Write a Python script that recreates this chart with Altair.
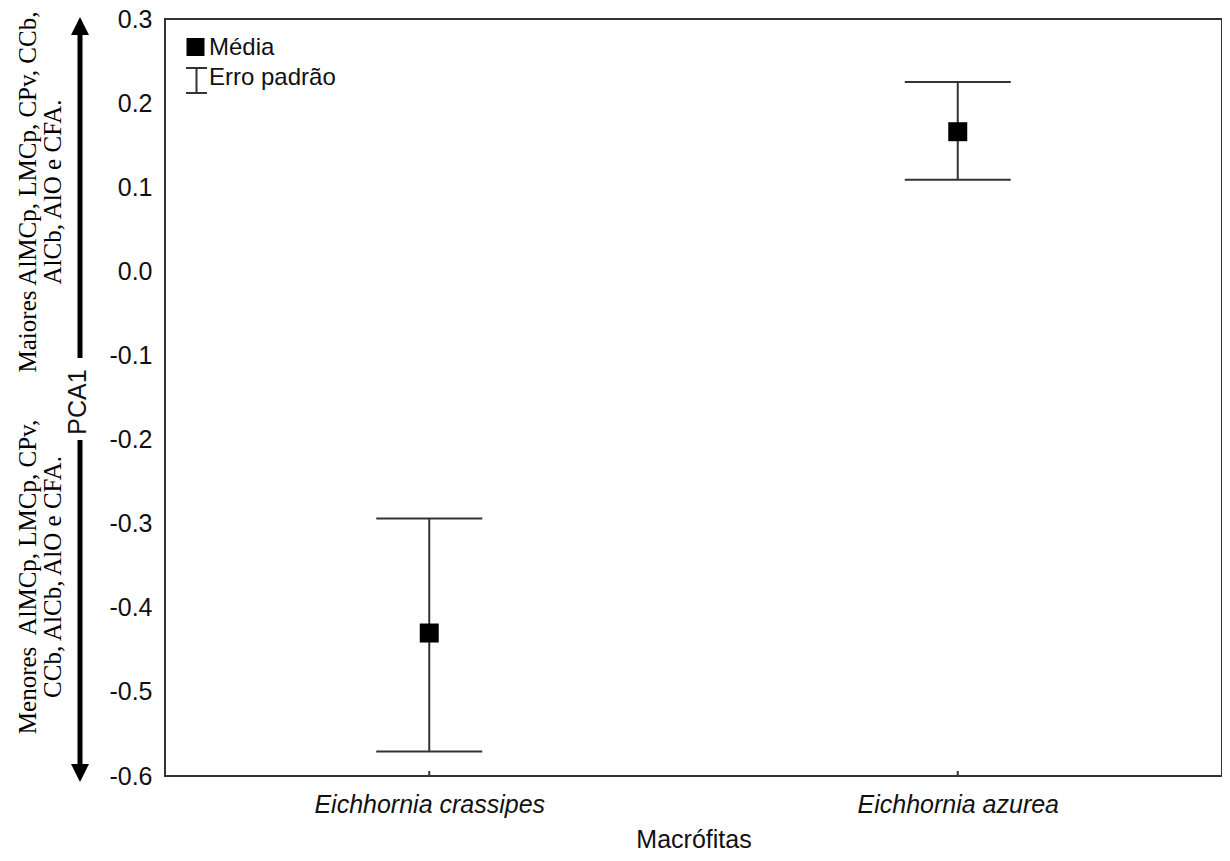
import altair as alt
import pandas as pd

# ---- data ----
categories = ["Eichhornia crassipes", "Eichhornia azurea"]
means = [-0.430, 0.166]
lower = [-0.571, 0.109]
upper = [-0.294, 0.225]
y_ticks = [0.3, 0.2, 0.1, 0.0, -0.1, -0.2, -0.3, -0.4, -0.5, -0.6]
legend_labels = ["Média", "Erro padrão"]
side_upper = ["Maiores AlMCp, LMCp, CPv, CCb,", "AlCb, AlO e CFA."]
side_lower = ["Menores\u00a0 AlMCp, LMCp, CPv,", "CCb, AlCb, AlO e CFA."]
y_title = "PCA1"
x_title = "Macrófitas"

W, H = 1057, 757
PL, PT = 157, 11          # plot origin = page margin 8 + padding
OX, OY = PL + 8, PT + 8   # absolute page position of the plot's top-left corner
SANS = "Liberation Sans"
SERIF = "Liberation Serif"
LINE = "#333333"
TXT = "#111111"
FS = 25


def ax(v):
    return alt.value(v - OX)


def ay(v):
    return alt.value(v - OY)


df = pd.DataFrame({"cat": categories, "mean": means, "lo": lower, "hi": upper})
one = pd.DataFrame({"k": [0]})

xenc = alt.X(
    "cat:N",
    sort=categories,
    scale=alt.Scale(type="point", padding=0.5),
    axis=alt.Axis(
        labelFont=SANS, labelFontSize=FS, labelFontStyle="italic", labelColor=TXT,
        labelAngle=0, labelPadding=16, labelLimit=0, ticks=False, domain=False, grid=False,
        title=x_title, titleFont=SANS, titleFontSize=FS, titleFontWeight="normal",
        titleColor=TXT, titlePadding=10,
    ),
)
yscale = alt.Scale(domain=[-0.6, 0.3], nice=False, zero=False)
yaxis = alt.Axis(
    values=y_ticks,
    labelExpr="replace(format(datum.value, '.1f'), '\u2212', '-')",
    labelFont=SANS, labelFontSize=FS, labelColor=TXT, labelPadding=13,
    ticks=False, domain=False, grid=False, title=None,
)

base = alt.Chart(df)

err = base.mark_rule(color=LINE, strokeWidth=2).encode(
    x=xenc, y=alt.Y("lo:Q", scale=yscale, axis=yaxis), y2="hi:Q"
)
cap_lo = base.mark_tick(orient="horizontal", size=106, thickness=2, color=LINE, opacity=1).encode(
    x=xenc, y=alt.Y("lo:Q", scale=yscale)
)
cap_hi = base.mark_tick(orient="horizontal", size=106, thickness=2, color=LINE, opacity=1).encode(
    x=xenc, y=alt.Y("hi:Q", scale=yscale)
)
pts = base.mark_point(shape="square", filled=True, size=361, color="black", opacity=1).encode(
    x=xenc, y=alt.Y("mean:Q", scale=yscale)
)
xticks = base.mark_rule(color=LINE, strokeWidth=2).encode(
    x=xenc, y=alt.value(H), y2=alt.value(H - 5)
)

ann = alt.Chart(one)

# legend (inside plot, top-left)
leg_sq = ann.mark_point(shape="square", filled=True, size=324, color="black", opacity=1).encode(
    x=ax(195.5), y=ay(47)
)
leg_t1 = ann.mark_text(align="left", baseline="alphabetic", font=SANS, fontSize=24, color=TXT).encode(
    x=ax(209), y=ay(55), text=alt.value(legend_labels[0])
)
leg_v = ann.mark_rule(color=LINE, strokeWidth=2).encode(x=ax(196.5), y=ay(68), y2=ay(93))
leg_c1 = ann.mark_rule(color=LINE, strokeWidth=2).encode(x=ax(186), x2=ax(207), y=ay(68))
leg_c2 = ann.mark_rule(color=LINE, strokeWidth=2).encode(x=ax(186), x2=ax(207), y=ay(93))
leg_t2 = ann.mark_text(align="left", baseline="alphabetic", font=SANS, fontSize=24, color=TXT).encode(
    x=ax(209), y=ay(85), text=alt.value(legend_labels[1])
)

# y title with arrows (left of the plot)
arr_up = ann.mark_rule(color="black", strokeWidth=5).encode(x=ax(80), y=ay(29), y2=ay(358))
arr_dn = ann.mark_rule(color="black", strokeWidth=5).encode(x=ax(80), y=ay(440), y2=ay(772))
head_up = ann.mark_point(shape="M-1,1L1,1L0,-1Z", filled=True, size=324, color="black", opacity=1).encode(
    x=ax(80), y=ay(26)
)
head_dn = ann.mark_point(shape="M-1,-1L1,-1L0,1Z", filled=True, size=324, color="black", opacity=1).encode(
    x=ax(80), y=ay(773)
)
ytitle = ann.mark_text(angle=270, align="center", baseline="middle", font=SANS, fontSize=FS, color=TXT).encode(
    x=ax(78), y=ay(402), text=alt.value(y_title)
)
side1 = ann.mark_text(angle=270, align="center", baseline="middle", font=SERIF, fontSize=25,
                      lineHeight=25, color="black").encode(
    x=ax(28), y=ay(192), text=alt.value(side_upper)
)
side2 = ann.mark_text(angle=270, align="center", baseline="middle", font=SERIF, fontSize=25,
                      lineHeight=25, color="black").encode(
    x=ax(28), y=ay(577), text=alt.value(side_lower)
)

chart = alt.layer(
    err, cap_lo, cap_hi, xticks, pts,
    leg_sq, leg_t1, leg_v, leg_c1, leg_c2, leg_t2,
    arr_up, arr_dn, head_up, head_dn, ytitle, side1, side2,
).properties(
    width=W, height=H,
    autosize=alt.AutoSizeParams(type="none"),
    padding={"left": PL, "top": PT, "right": 0, "bottom": 845 - PT - H},
).configure_view(stroke=LINE, strokeWidth=2)

chart.save("out.html", embed_options={"renderer": "svg", "actions": False})
